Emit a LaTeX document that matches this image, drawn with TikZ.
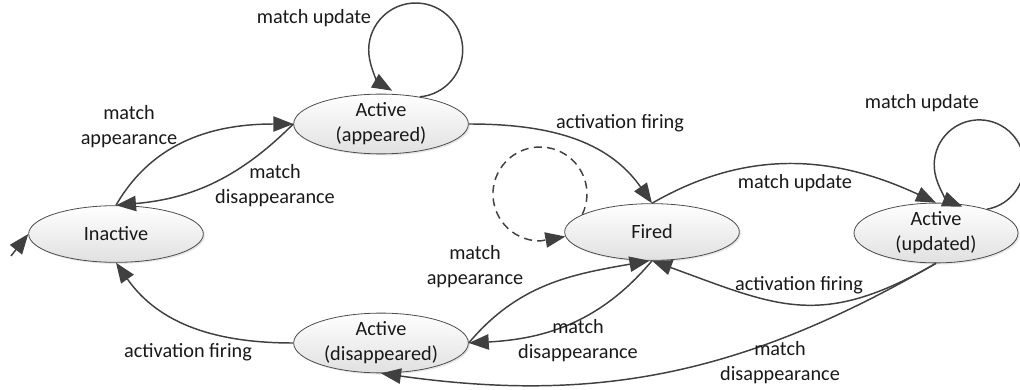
\documentclass[tikz,border=0pt]{standalone}
\usepackage{fontspec}
\setmainfont{Carlito}
\usepackage{tikz}
\usetikzlibrary{arrows.meta,shapes.geometric,shadows}
\definecolor{edgegray}{HTML}{404040}

\begin{document}
\begin{tikzpicture}[x=0.75pt,y=0.75pt,
  every node/.style={font=\fontsize{15.2}{18.75}\selectfont, text=black!90},
  st/.style={draw=black!70, line width=0.6pt, ellipse, inner sep=0pt,
    minimum width=131pt, minimum height=42.5pt, top color=white,
    bottom color=black!12, align=center,
    drop shadow={shadow xshift=1.2pt,shadow yshift=-1.2pt,opacity=0.2}},
  tr/.style={draw=edgegray, line width=1.1pt, -{Triangle[length=15pt,width=11.5pt]}},
  lb/.style={align=center, inner sep=0pt}]
\useasboundingbox (0,0) rectangle (1020,389);

% states
\node[st] (inact) at (116,155) {Inactive};
\node[st] (app) at (381,265) {Active\\(appeared)};
\node[st] (fired) at (652,157) {Fired};
\node[st, minimum width=123pt] (upd) at (936,156) {Active\\(updated)};
\node[st] (dis) at (381,46) {Active\\(disappeared)};

% start
\coordinate (init) at (11,133);
\draw[tr] (init) -- (inact.west);

% Inactive <-> Active (appeared)
\draw[tr] (inact.north) to[out=60,in=180] (app.west);
\draw[tr] (app.west) to[out=225,in=5] (inact.north);
\node[lb] (lapp1) at (129,262) {match\\appearance};
\node[lb] (ldis1) at (275,203) {match\\disappearance};

% self loops
\draw[tr] (app.35) arc[start angle=275,end angle=600,radius=47];
\node[lb] (lupa) at (314,371) {match update};
\draw[tr] (upd.25) arc[start angle=280,end angle=608,radius=45];
\node[lb] (lupu) at (922,286) {match update};
\draw[tr, dash pattern=on 6pt off 4pt] (fired.166)
  arc[start angle=334,end angle=630,radius=47] -- (fired.183);

% firing
\draw[tr] (app.east) to[out=0,in=125] (fired.north);
\node[lb] (lfir1) at (620,266) {activation firing};
\draw[tr] (fired.north) to[out=30,in=155] (upd.north);
\node[lb] (lupd) at (795,206) {match update};
\draw[tr] (upd.south) to[out=210,in=-20,looseness=1.2] (fired.south);
\node[lb] (lfir2) at (799,104) {activation firing};

% Active (disappeared)
\draw[tr] (upd.south) to[out=210,in=-8] (dis.south);
\node[lb] (ldis3) at (780,26) {match\\disappearance};
\draw[tr] (fired.south) to[out=230,in=3] (dis.east);
\node[lb] (ldis2) at (578,48) {match\\disappearance};
\draw[tr] (dis.east) to[out=50,in=190] (fired.265);
\node[lb] (lapp2) at (475,122) {match\\appearance};
\draw[tr] (dis.west) to[out=180,in=-55] (inact.south);
\node[lb] (lfir3) at (188,37) {activation firing};
\end{tikzpicture}
\end{document}
